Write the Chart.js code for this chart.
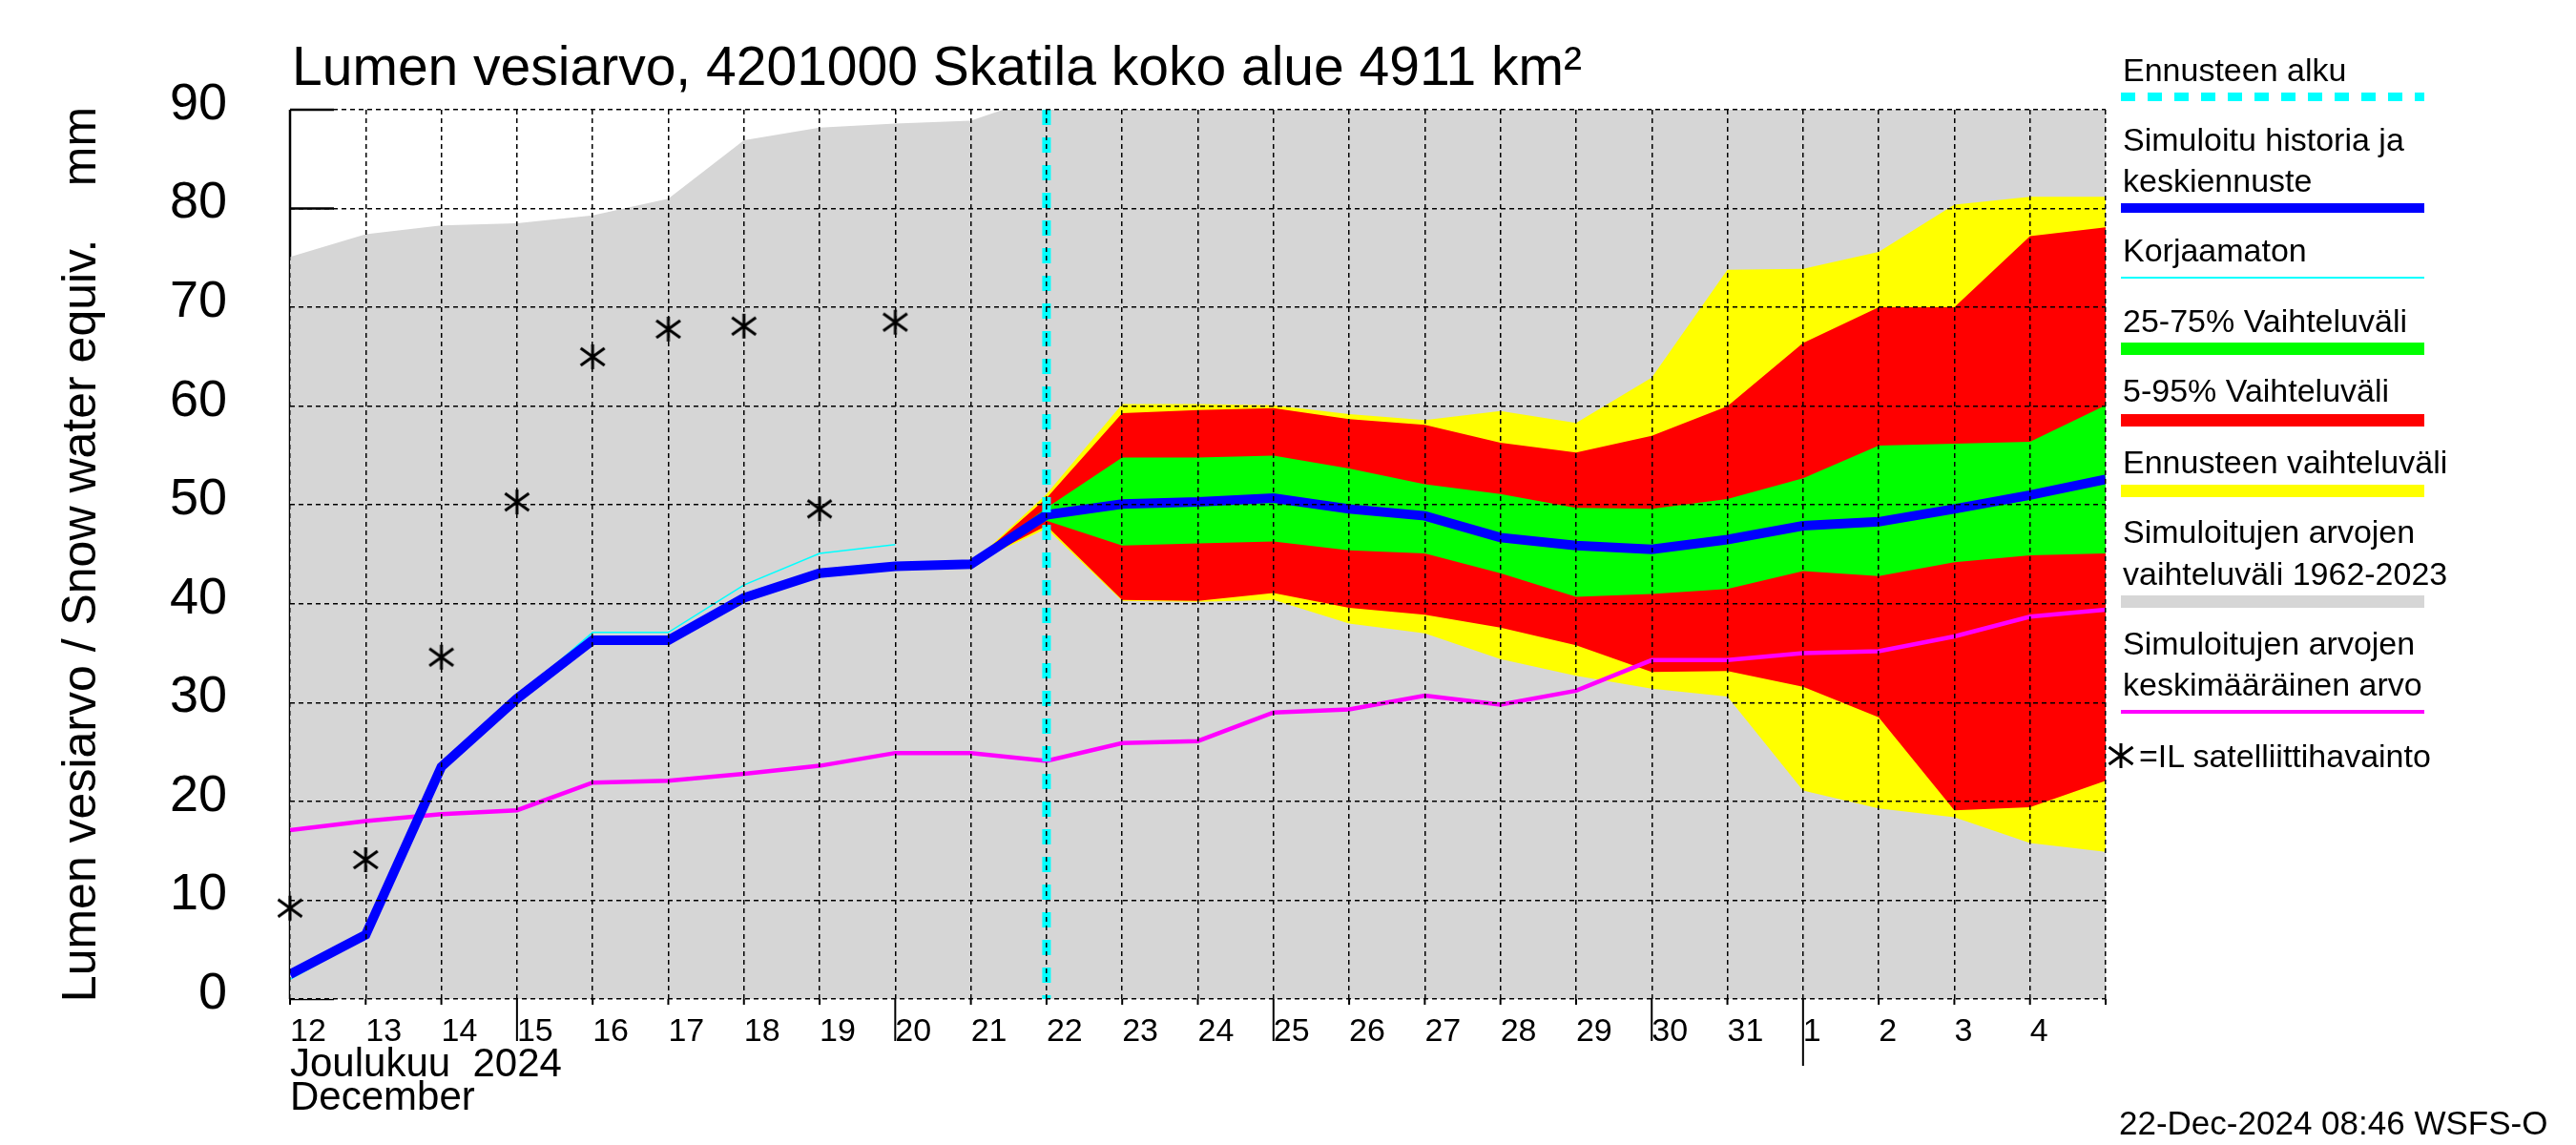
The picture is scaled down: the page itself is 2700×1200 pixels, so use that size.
<!DOCTYPE html>
<html>
<head>
<meta charset="utf-8">
<script src="https://cdn.jsdelivr.net/npm/chart.js@4.4.1/dist/chart.umd.min.js"></script>
<style>
body { margin: 0; background: #fff; }
#wrap { position: relative; width: 2700px; height: 1200px; font-family: "Liberation Sans", Arial, sans-serif; color: #000; }
#wrap canvas { position: absolute; left: 0; top: 0; }
.t { position: absolute; white-space: pre; line-height: 1; }
.lg { font-size: 34px; left: 2225px; }
.s { position: absolute; left: 2223px; width: 318px; }
</style>
</head>
<body>
<div id="wrap">
  <canvas id="chart" width="2700" height="1200"></canvas>

  <div class="t" style="left:306px; top:41px; font-size:57px;">Lumen vesiarvo, 4201000 Skatila koko alue 4911 km²</div>

  <!-- legend -->
  <div class="t lg" style="top:56px;">Ennusteen alku</div>
  <div class="s" style="top:97px; height:9px; background:repeating-linear-gradient(90deg,#00ffff 0 15px,transparent 15px 28px);"></div>

  <div class="t lg" style="top:129px;">Simuloitu historia ja</div>
  <div class="t lg" style="top:172px;">keskiennuste</div>
  <div class="s" style="top:213px; height:10px; background:#0000ff;"></div>

  <div class="t lg" style="top:245px;">Korjaamaton</div>
  <div class="s" style="top:290px; height:2px; background:#00ffff;"></div>

  <div class="t lg" style="top:319px;">25-75% Vaihteluväli</div>
  <div class="s" style="top:359px; height:13px; background:#00ff00;"></div>

  <div class="t lg" style="top:392px;">5-95% Vaihteluväli</div>
  <div class="s" style="top:434px; height:13px; background:#ff0000;"></div>

  <div class="t lg" style="top:467px;">Ennusteen vaihteluväli</div>
  <div class="s" style="top:508px; height:13px; background:#ffff00;"></div>

  <div class="t lg" style="top:540px;">Simuloitujen arvojen</div>
  <div class="t lg" style="top:584px;">vaihteluväli 1962-2023</div>
  <div class="s" style="top:624px; height:13px; background:#d6d6d6;"></div>

  <div class="t lg" style="top:657px;">Simuloitujen arvojen</div>
  <div class="t lg" style="top:700px;">keskimääräinen arvo</div>
  <div class="s" style="top:744px; height:4px; background:#ff00ff;"></div>

  <svg style="position:absolute; left:2209px; top:779px;" width="28" height="26" viewBox="0 0 28 26">
    <path d="M14 0 V26 M1.5 4 L26.5 22 M1.5 22 L26.5 4" stroke="#000" stroke-width="3" fill="none"/>
  </svg>
  <div class="t lg" style="top:775px; left:2242px;">=IL satelliittihavainto</div>

  <div class="t" style="left:2221px; top:1159px; font-size:35px;">22-Dec-2024 08:46 WSFS-O</div>
</div>

<script>
// days shown, Dec 12 2024 .. Jan 5 2025 (data points sit on day boundaries)
const dates = ['2024-12-12','2024-12-13','2024-12-14','2024-12-15','2024-12-16','2024-12-17','2024-12-18',
  '2024-12-19','2024-12-20','2024-12-21','2024-12-22','2024-12-23','2024-12-24','2024-12-25','2024-12-26',
  '2024-12-27','2024-12-28','2024-12-29','2024-12-30','2024-12-31','2025-01-01','2025-01-02','2025-01-03',
  '2025-01-04','2025-01-05'];
const dayLabels = ['12','13','14','15','16','17','18','19','20','21','22','23','24','25','26','27','28','29','30','31','1','2','3','4'];
const forecastStart = '2024-12-22';
const yMin = 0, yMax = 90, yStep = 10;

// simulated history + median forecast
const simulated = [2.5, 6.5, 23.5, 30.4, 36.3, 36.3, 40.6, 43.1, 43.8, 44.0, 49.0, 50.1, 50.3, 50.7, 49.6,
  48.9, 46.7, 45.9, 45.5, 46.5, 47.9, 48.3, 49.6, 51.0, 52.6];
// uncorrected
const uncorrected = [2.0, 6.2, 23.2, 30.5, 37.1, 37.1, 41.9, 45.1, 46.0, null, null, null, null, null, null,
  null, null, null, null, null, null, null, null, null, null];
// mean of simulated values
const simMean = [17.1, 18.0, 18.7, 19.1, 21.9, 22.1, 22.8, 23.6, 24.9, 24.9, 24.1, 25.9, 26.1, 29.0, 29.3,
  30.7, 29.8, 31.2, 34.3, 34.3, 35.0, 35.2, 36.7, 38.7, 39.4];
// upper edge of simulated range 1962-2023 (lower edge is 0)
const simRangeMax = [75.1, 77.4, 78.3, 78.5, 79.3, 81.0, 86.9, 88.2, 88.6, 88.9, 91.5, 94, 96, 98, 99,
  101, 103, 104, 106, 108, 110, 111, 113, 115, 117];

const N = null;
const fcMax = [N,N,N,N,N,N,N,N,N, 44.0, 51.1, 60.2, 60.2, 60.1, 59.2, 58.6, 59.5, 58.3, 62.9, 73.8, 73.9, 75.6, 80.4, 81.2, 81.2];
const p95   = [N,N,N,N,N,N,N,N,N, 44.0, 50.7, 59.3, 59.6, 59.8, 58.7, 58.1, 56.3, 55.3, 57.0, 60.0, 66.4, 70.0, 70.0, 77.2, 78.1];
const p75   = [N,N,N,N,N,N,N,N,N, 44.0, 49.7, 54.8, 54.8, 55.0, 53.7, 52.1, 51.1, 49.7, 49.6, 50.6, 52.7, 56.0, 56.2, 56.4, 60.1];
const p25   = [N,N,N,N,N,N,N,N,N, 44.0, 48.4, 45.9, 46.1, 46.3, 45.4, 45.1, 43.1, 40.7, 41.0, 41.5, 43.3, 42.8, 44.2, 44.9, 45.1];
const p5    = [N,N,N,N,N,N,N,N,N, 44.0, 47.9, 40.4, 40.3, 41.1, 39.6, 38.9, 37.6, 35.8, 33.1, 33.2, 31.6, 28.5, 19.1, 19.4, 22.1];
const fcMin = [N,N,N,N,N,N,N,N,N, 44.0, 47.6, 40.3, 40.2, 40.4, 38.0, 37.0, 34.4, 32.7, 31.4, 30.6, 21.1, 19.3, 18.4, 15.8, 14.9];

// IL satellite observations
const satellite = [9.2, 14.1, 34.6, 50.3, 65.0, 67.8, 68.1, 49.6, 68.5];

const pts = arr => arr.map((y, i) => (y == null ? null : { x: i, y })).filter(Boolean);
const fcIdx = dates.indexOf(forecastStart);
const monthStart = dayLabels.indexOf('1');

function asterisk() {
  const c = document.createElement('canvas');
  c.width = 28; c.height = 28;
  const g = c.getContext('2d');
  g.strokeStyle = '#000';
  g.lineWidth = 3;
  g.beginPath();
  g.moveTo(14, 1); g.lineTo(14, 27);
  g.moveTo(1.5, 5); g.lineTo(26.5, 23);
  g.moveTo(1.5, 23); g.lineTo(26.5, 5);
  g.stroke();
  return c;
}

const axisMarks = {
  id: 'axisMarks',
  beforeDatasetsDraw(chart) {
    const { ctx, chartArea: a, scales: { y } } = chart;
    ctx.save();
    ctx.strokeStyle = '#000';
    ctx.lineWidth = 2.5;
    ctx.beginPath();
    ctx.moveTo(a.left, a.top);
    ctx.lineTo(a.left, a.bottom);
    y.ticks.forEach(t => {
      const py = y.getPixelForValue(t.value);
      ctx.moveTo(a.left, py);
      ctx.lineTo(a.left + 46, py);
    });
    ctx.stroke();
    ctx.restore();
  },
  afterDraw(chart) {
    const { ctx, chartArea: a, scales: { x } } = chart;
    ctx.save();
    ctx.strokeStyle = '#000';
    ctx.lineWidth = 2;
    ctx.beginPath();
    x.ticks.forEach((t, i) => {
      const px = x.getPixelForValue(t.value);
      let len = 6;
      if (i === monthStart) len = 70;
      else if (i < dayLabels.length && +dayLabels[i] % 5 === 0) len = 44;
      ctx.moveTo(px, a.bottom);
      ctx.lineTo(px, a.bottom + len);
    });
    ctx.stroke();
    ctx.restore();
  }
};

const none = 'rgba(0,0,0,0)';

new Chart(document.getElementById('chart'), {
  type: 'line',
  data: {
    datasets: [
      { label: '=IL satelliittihavainto', data: pts(satellite), showLine: false, clip: false,
        pointStyle: asterisk(), pointRadius: 14, borderColor: '#000' },
      { label: 'Ennusteen alku', data: [{ x: fcIdx, y: yMax }, { x: fcIdx, y: yMin }],
        borderColor: '#00ffff', borderWidth: 9, borderDash: [16, 13], borderCapStyle: 'butt' },
      { label: 'Simuloitu historia ja keskiennuste', data: pts(simulated), borderColor: '#0000ff', borderWidth: 10 },
      { label: 'Korjaamaton', data: pts(uncorrected), borderColor: '#00ffff', borderWidth: 1.5 },
      { label: 'Simuloitujen arvojen keskimääräinen arvo', data: pts(simMean), borderColor: '#ff00ff', borderWidth: 4.5 },
      { label: '25-75% Vaihteluväli', data: pts(p75), borderColor: none, borderWidth: 0, fill: 6, backgroundColor: '#00ff00' },
      { label: 'p25', data: pts(p25), borderColor: none, borderWidth: 0 },
      { label: '5-95% Vaihteluväli', data: pts(p95), borderColor: none, borderWidth: 0, fill: 8, backgroundColor: '#ff0000' },
      { label: 'p5', data: pts(p5), borderColor: none, borderWidth: 0 },
      { label: 'Ennusteen vaihteluväli', data: pts(fcMax), borderColor: none, borderWidth: 0, fill: 10, backgroundColor: '#ffff00' },
      { label: 'min', data: pts(fcMin), borderColor: none, borderWidth: 0 },
      { label: 'Simuloitujen arvojen vaihteluväli 1962-2023', data: pts(simRangeMax), borderColor: none, borderWidth: 0,
        fill: 'origin', backgroundColor: '#d6d6d6' }
    ]
  },
  options: {
    responsive: false,
    animation: false,
    devicePixelRatio: 1,
    layout: { padding: { left: 20, top: 115, right: 493, bottom: 0 } },
    elements: { point: { radius: 0 }, line: { tension: 0 } },
    plugins: { legend: { display: false }, tooltip: { enabled: false } },
    scales: {
      x: {
        type: 'linear', min: 0, max: dates.length - 1,
        afterBuildTicks: s => { s.ticks = dates.map((d, i) => ({ value: i })); },
        afterFit: s => { s.height = 153; },
        grid: { color: '#000', lineWidth: 1.5, drawTicks: false, z: 1 },
        border: { display: false, dash: [5, 4] },
        ticks: {
          autoSkip: false, maxRotation: 0, minRotation: 0, align: 'start', padding: 14,
          color: '#000', font: { size: 34, family: '"Liberation Sans", Arial, sans-serif' },
          callback: (v, i) => (i < dayLabels.length ? dayLabels[i] : '')
        },
        title: {
          display: true, text: ['Joulukuu  2024', 'December'], align: 'start', color: '#000',
          font: { size: 42, lineHeight: 0.84, family: '"Liberation Sans", Arial, sans-serif' },
          padding: { top: 0, bottom: 31 }
        }
      },
      y: {
        min: yMin, max: yMax,
        afterFit: s => { s.width = 284; },
        grid: { color: '#000', lineWidth: 1.5, drawTicks: false, z: 1 },
        border: { display: false, dash: [5, 4] },
        ticks: { stepSize: yStep, padding: 66, labelOffset: -5, color: '#000',
          font: { size: 54, family: '"Liberation Sans", Arial, sans-serif' } },
        title: {
          display: true, text: 'Lumen vesiarvo / Snow water equiv.    mm', color: '#000',
          font: { size: 50, family: '"Liberation Sans", Arial, sans-serif' },
          padding: { top: 36, bottom: 0 }
        }
      }
    }
  },
  plugins: [axisMarks]
});
</script>
</body>
</html>
